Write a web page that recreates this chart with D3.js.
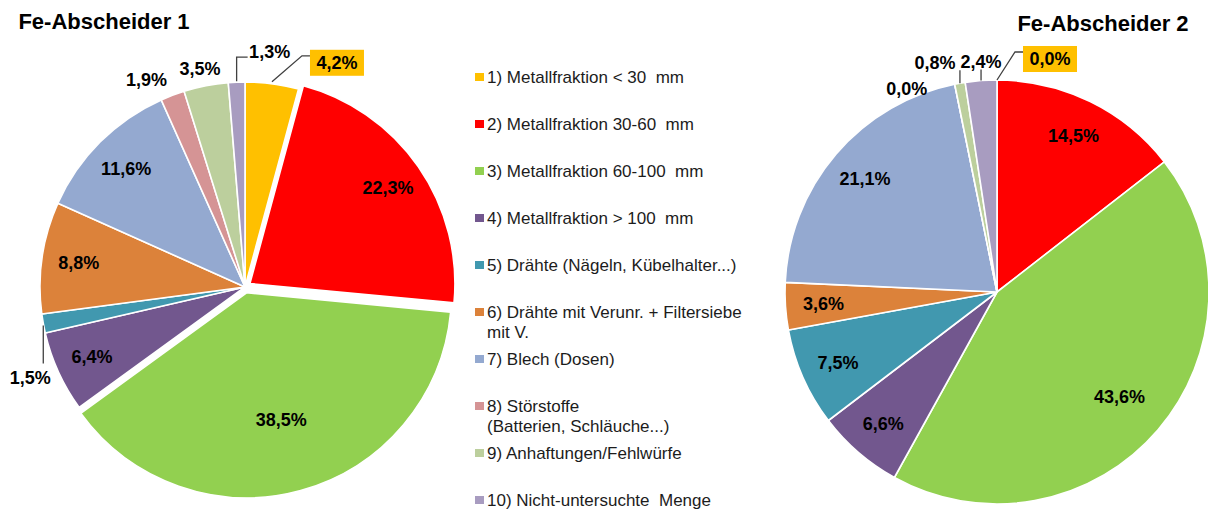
<!DOCTYPE html>
<html>
<head>
<meta charset="utf-8">
<script src="https://cdn.jsdelivr.net/npm/d3@7"></script>
<style>
  body { margin: 0; background: #fff; }
  text { font-family: "Liberation Sans", Arial, sans-serif; }
</style>
</head>
<body>
<script>
var width = 1208,
    height = 513;

// legend / category names (wrapped lines as in the original)
var categories = [
    ["1) Metallfraktion < 30  mm"],
    ["2) Metallfraktion 30-60  mm"],
    ["3) Metallfraktion 60-100  mm"],
    ["4) Metallfraktion > 100  mm"],
    ["5) Drähte (Nägeln, Kübelhalter...)"],
    ["6) Drähte mit Verunr. + Filtersiebe", "mit V."],
    ["7) Blech (Dosen)"],
    ["8) Störstoffe", "(Batterien, Schläuche...)"],
    ["9) Anhaftungen/Fehlwürfe"],
    ["10) Nicht-untersuchte  Menge"]
];

var titles = ["Fe-Abscheider 1", "Fe-Abscheider 2"];

// shares in %
var values1 = [4.2, 22.3, 38.5, 6.4, 1.5, 8.8, 11.6, 1.9, 3.5, 1.3];
var values2 = [0.0, 14.5, 43.6, 6.6, 7.5, 3.6, 21.1, 0.0, 0.8, 2.4];

var colors = ["#ffc000", "#ff0000", "#92d050", "#72578e", "#4198af",
              "#dc823a", "#94a9d0", "#d59495", "#bccf9d", "#a89cc0"];

var color = d3.scaleOrdinal().domain(d3.range(categories.length)).range(colors);

var svg = d3.select("body").append("svg")
    .attr("width", width)
    .attr("height", height);

svg.append("rect").attr("width", width).attr("height", height).attr("fill", "#fff");

var fmt = function (v) { return d3.format(".1f")(v).replace(".", ",") + "%"; };

// layout of each pie (placement only)
var pies = [
    {
        values: values1, title: titles[0], titleX: 104, titleY: 29,
        cx: 245, cy: 287, r: 205,
        explode: { 1: 6, 2: 6 },
        labelRatio: 0.82, ratioOverride: { 2: 0.64 },
        callouts: {
            0: { dx: 65, dy: -21, box: true, leader: [[0, -2], [30, -28], [38, -28]] },
            9: { dx: 33, dy: -31, leader: [[0, -1], [0, -25], [11, -25]] },
            8: { dx: -6, dy: -17 },
            7: { dx: -26, dy: -16 },
            4: { dx: -13, dy: 54, leader: [[0, 2], [0, 40]] }
        }
    },
    {
        values: values2, title: titles[1], titleX: 1103, titleY: 31,
        cx: 997, cy: 292, r: 212,
        explode: {},
        labelRatio: 0.82, ratioOverride: { 2: 0.76 },
        callouts: {
            0: { dx: 53, dy: -21, box: true, leader: [[0, 0], [18, -28], [26, -28]] },
            7: { dx: -48, dy: 4 },
            8: { dx: -25, dy: -21, leader: [[0, 0], [0, -13]] },
            9: { dx: 0, dy: -19, leader: [[0, 0], [0, -11]] }
        }
    }
];

var pie = d3.pie().sort(null).value(function (d) { return d; });

pies.forEach(function (p) {
    var arcs = pie(p.values).map(function (a, i) { a.index = i; return a; });
    var arc = d3.arc().innerRadius(0).outerRadius(p.r);
    var g = svg.append("g").attr("transform", "translate(" + p.cx + "," + p.cy + ")");

    function mid(d) { return (d.startAngle + d.endAngle) / 2; }
    function rim(d, rr) { var a = mid(d); return [rr * Math.sin(a), -rr * Math.cos(a)]; }

    g.selectAll("path.slice")
        .data(arcs)
        .enter().append("path")
        .attr("class", "slice")
        .attr("d", arc)
        .attr("fill", function (d) { return color(d.index); })
        .attr("stroke", "#fff")
        .attr("stroke-width", 1.6)
        .attr("stroke-linejoin", "round")
        .attr("transform", function (d) {
            var e = p.explode[d.index] || 0, pt = rim(d, e);
            return "translate(" + pt[0] + "," + pt[1] + ")";
        });

    // labels inside the slices
    g.selectAll("text.inside")
        .data(arcs.filter(function (d) { return !p.callouts[d.index]; }))
        .enter().append("text")
        .attr("class", "inside")
        .attr("transform", function (d) {
            var rr = (p.ratioOverride[d.index] || p.labelRatio) * p.r + (p.explode[d.index] || 0);
            var pt = rim(d, rr);
            return "translate(" + pt[0] + "," + pt[1] + ")";
        })
        .attr("text-anchor", "middle")
        .attr("dy", "0.36em")
        .style("font-size", "18px")
        .style("font-weight", "bold")
        .attr("fill", "#000")
        .text(function (d) { return fmt(d.data); });

    // labels outside, with leader lines
    var outside = arcs.filter(function (d) { return p.callouts[d.index]; });

    g.selectAll("path.leader")
        .data(outside.filter(function (d) { return p.callouts[d.index].leader; }))
        .enter().append("path")
        .attr("class", "leader")
        .attr("d", function (d) {
            var c = p.callouts[d.index], base = rim(d, p.r);
            return d3.line()(c.leader.map(function (o) { return [base[0] + o[0], base[1] + o[1]]; }));
        })
        .attr("fill", "none")
        .attr("stroke", "#404040")
        .attr("stroke-width", 1.3);

    var lab = g.selectAll("g.outside")
        .data(outside)
        .enter().append("g")
        .attr("class", "outside")
        .attr("transform", function (d) {
            var c = p.callouts[d.index], base = rim(d, p.r);
            return "translate(" + (base[0] + c.dx) + "," + (base[1] + c.dy) + ")";
        });

    lab.filter(function (d) { return p.callouts[d.index].box; })
        .append("rect")
        .attr("x", -27).attr("y", -13)
        .attr("width", 54).attr("height", 26)
        .attr("fill", color(0));

    lab.append("text")
        .attr("text-anchor", "middle")
        .attr("dy", "0.36em")
        .style("font-size", "18px")
        .style("font-weight", "bold")
        .attr("fill", "#000")
        .text(function (d) { return fmt(d.data); });

    svg.append("text")
        .attr("x", p.titleX)
        .attr("y", p.titleY)
        .attr("text-anchor", "middle")
        .style("font-size", "22px")
        .style("font-weight", "bold")
        .attr("fill", "#000")
        .text(p.title);
});

// legend, evenly spaced slots
var legendY = d3.scaleLinear().domain([0, categories.length - 1]).range([77, 500]);

var legend = svg.selectAll("g.legend")
    .data(categories)
    .enter().append("g")
    .attr("class", "legend")
    .attr("transform", function (d, i) { return "translate(475," + legendY(i) + ")"; });

legend.append("rect")
    .attr("x", 0).attr("y", -4)
    .attr("width", 9).attr("height", 8)
    .attr("fill", function (d, i) { return color(i); });

legend.append("text")
    .attr("x", 12)
    .attr("y", 0)
    .style("font-size", "17px")
    .style("white-space", "pre")
    .attr("fill", "#1c1c1c")
    .selectAll("tspan")
    .data(function (d) { return d; })
    .enter().append("tspan")
    .attr("x", 12)
    .attr("dy", function (d, i) { return i === 0 ? "0.36em" : "1.15em"; })
    .text(function (d) { return d; });
</script>
</body>
</html>
